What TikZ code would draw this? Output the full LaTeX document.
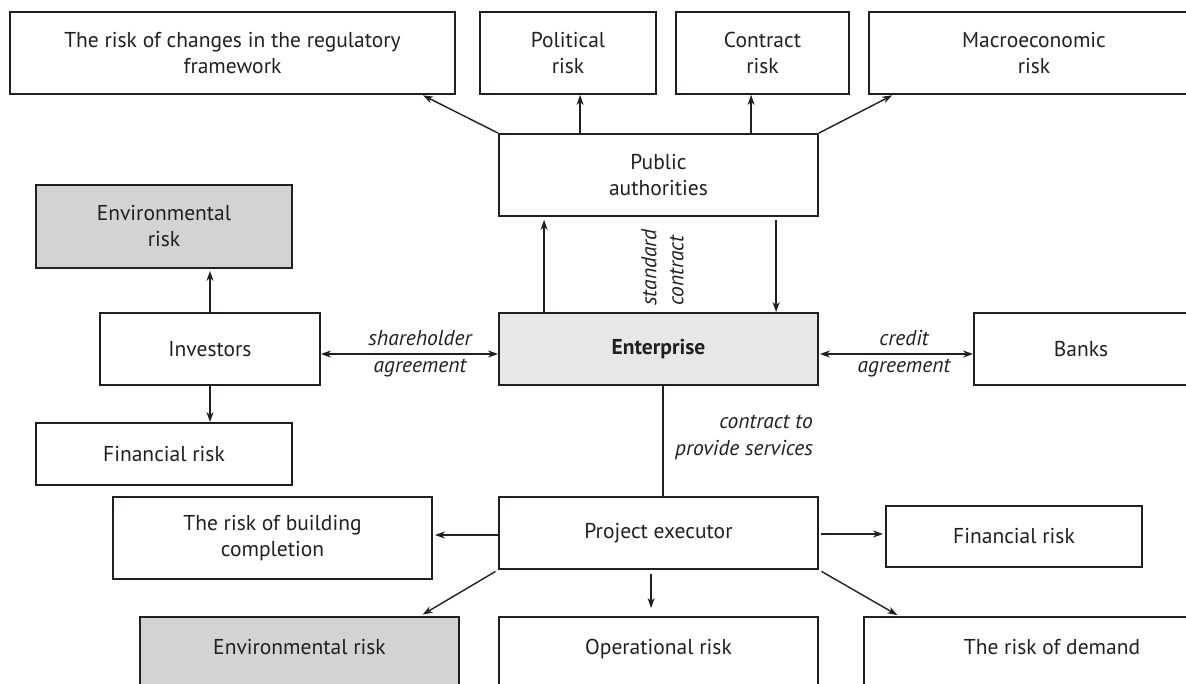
\documentclass[tikz,border=0pt]{standalone}
\usepackage{fontspec}
\setmainfont{PT Sans}
\usetikzlibrary{arrows.meta,calc}
\definecolor{ink}{RGB}{35,31,32}
\definecolor{envgrey}{RGB}{209,211,212}
\definecolor{entgrey}{RGB}{230,231,232}
\tikzset{
  box/.style={draw=ink, line width=1.8pt, rectangle, inner sep=0pt, align=center, text=ink,
    font=\fontsize{21.5}{26}\selectfont},
  cutbox/.style={minimum height=140pt, text height=15pt, text depth=80pt},
  tip/.tip={Stealth[length=10pt,width=7pt,inset=3pt]},
  arr/.style={draw=ink, line width=1.4pt, -tip},
  darr/.style={draw=ink, line width=1.4pt, tip-tip},
  plainline/.style={draw=ink, line width=1.4pt},
  lab/.style={font=\fontsize{21.5}{27}\selectfont\itshape, text=ink, align=center, inner sep=0pt},
}
\begin{document}
\begin{tikzpicture}[x=1pt,y=-1pt]
\useasboundingbox (0,0) rectangle (1186,684);
\clip (0,0) rectangle (1186,684);
% top row
\node[box, minimum width=445pt, minimum height=82pt] (reg) at (232.5,53) {The risk of changes in the regulatory\\framework};
\node[box, minimum width=176pt, minimum height=82pt] (pol) at (568,53) {Political\\risk};
\node[box, minimum width=173pt, minimum height=82pt] (con) at (762.5,53) {Contract\\risk};
\node[box, minimum width=330pt, minimum height=82pt] (mac) at (1034,53) {Macroeconomic\\risk};
% public authorities
\node[box, minimum width=319pt, minimum height=82pt] (pa) at (658.5,175) {Public\\authorities};
% left column
\node[box, fill=envgrey, minimum width=256pt, minimum height=83pt] (envt) at (164,226.5) {Environmental\\risk};
\node[box, minimum width=220pt, minimum height=72pt] (inv) at (210,349) {Investors};
\node[box, minimum width=256pt, minimum height=62pt] (finl) at (164,454) {Financial risk};
% middle row
\node[box, fill=entgrey, minimum width=319pt, minimum height=72pt, font=\fontsize{21.5}{26}\selectfont\bfseries] (ent) at (658.5,349) {Enterprise};
\node[box, minimum width=214pt, minimum height=72pt] (banks) at (1081,349) {Banks};
% project executor row
\node[box, minimum width=319pt, minimum height=72pt] (pe) at (658.5,533) {Project executor};
\node[box, minimum width=319pt, minimum height=82pt] (bld) at (272.5,538) {The risk of building\\completion};
\node[box, minimum width=256pt, minimum height=61pt] (finr) at (1014,536.5) {Financial risk};
% bottom row (cut off)
\node[box, cutbox, fill=envgrey, minimum width=319pt] (envb) at (299.5,687) {Environmental risk};
\node[box, cutbox, minimum width=319pt] (op) at (658.5,687) {Operational risk};
\node[box, cutbox, minimum width=376pt] (dem) at (1052,687) {The risk of demand};
% labels
\node[lab] (shl) at (420,354) {shareholder\\agreement};
\node[lab] (crl) at (904,354) {credit\\agreement};
\node[lab, anchor=east, align=right] (cps) at (813,437.5) {contract to\\provide services};
\node[lab, rotate=90, align=left] (stc) at (662.5,267.5) {standard\\contract};
% connectors: public authorities to top row
\draw[arr, shorten >=1pt] (pa.north west) -- ($(reg.south west)+(413,0)$);
\draw[arr] ($(pa.north west)+(82,0)$) -- ($(pol.south west)+(101,0)$);
\draw[arr] ($(pa.north west)+(253,0)$) -- ($(con.south west)+(76,0)$);
\draw[arr, shorten >=1pt] (pa.north east) -- ($(mac.south west)+(25,0)$);
% enterprise <-> public authorities
\draw[arr, shorten >=3pt] ($(ent.north west)+(46,0)$) -- ($(pa.south west)+(46,0)$);
\draw[arr, shorten <=3pt] ($(pa.south west)+(278,0)$) -- ($(ent.north west)+(278,0)$);
% investors
\draw[arr, shorten >=2pt] (inv.north) -- (inv.north |- envt.south);
\draw[arr] (inv.south) -- (inv.south |- finl.north);
\draw[darr] ($(inv.east)+(0,5)$) -- ($(ent.west)+(0,5)$);
% banks
\draw[darr, shorten <=1pt] ($(ent.east)+(0,5)$) -- ($(banks.west)+(0,5)$);
% enterprise to project executor
\draw[plainline] ($(ent.south west)+(165,0)$) -- ($(pe.north west)+(165,0)$);
% project executor
\draw[arr, shorten >=2pt] ($(pe.west)+(0,2)$) -- ($(bld.east |- pe.west)+(0,2)$);
\draw[arr, shorten <=2pt, shorten >=2pt] ($(pe.east)+(0,1)$) -- ($(finr.west |- pe.east)+(0,1)$);
\draw[arr, shorten <=3pt, shorten >=3pt] (pe.south west) -- ($(envb.north west)+(281,0)$);
\draw[arr, shorten <=4pt, shorten >=8pt] ($(pe.south west)+(153,0)$) -- ($(op.north west)+(153,0)$);
\draw[arr, shorten <=3pt, shorten >=2pt] (pe.south east) -- ($(dem.north west)+(36,0)$);
\end{tikzpicture}
\end{document}
